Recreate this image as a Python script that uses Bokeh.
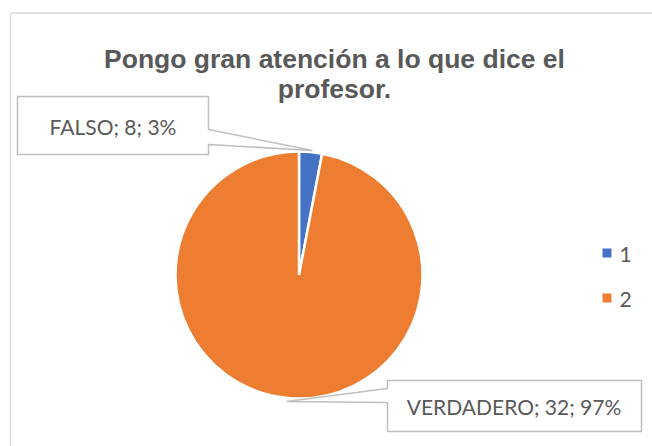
import math
from bokeh.plotting import figure
from bokeh.models import Range1d, ColumnDataSource
from bokeh.core.properties import value
from bokeh.embed import file_html
from bokeh.resources import INLINE

# ---- data ----
title_lines = ["Pongo gran atención a lo que dice el", "profesor."]
categories = ["FALSO", "VERDADERO"]
counts = [8, 32]
percents = [3, 97]
legend_labels = ["1", "2"]
colors = ["#4472C4", "#ED7D31"]

W, H = 652, 446
OFF = 0
def px(x):  # page x -> data x
    return x - OFF
def py(y):  # page y -> data y
    return (H + OFF) - y

p = figure(width=W, height=H, output_backend="svg", toolbar_location=None,
           x_range=Range1d(0, W), y_range=Range1d(0, H), min_border=0,
           outline_line_color=None, background_fill_color="white")
p.axis.visible = False
p.grid.visible = False

# chart border (top & left visible; the rest is cropped)
p.segment(x0=[px(10), px(10)], y0=[py(12.5), py(12.5)], x1=[px(700), px(10)], y1=[py(12.5), py(500)],
          line_color="#d9d9d9", line_width=1.3)

# title
for i, t in enumerate(title_lines):
    p.text(x=[px(334)], y=[py(58.5 + 30 * i)], text=[t], text_align="center", text_baseline="alphabetic",
           text_font=value("Liberation Sans"), text_font_style="bold", text_font_size="26.5px",
           text_color="#595959")

# pie
cx, cy, r = px(298.5), py(274.5), 123.5
cum = [0]
for v in percents:
    cum.append(cum[-1] + v)
total = cum[-1]
starts = [math.pi / 2 - 2 * math.pi * cum[i] / total for i in range(len(percents))]
ends = [math.pi / 2 - 2 * math.pi * cum[i + 1] / total for i in range(len(percents))]
src = ColumnDataSource(dict(start=starts, end=ends, color=colors))
p.wedge(x=cx, y=cy, radius=r, start_angle="start", end_angle="end", direction="clock",
        fill_color="color", line_color="white", line_width=2.5, source=src)

# data label callouts
callouts = [
    [(17, 96), (208, 96), (208, 129), (312, 150), (208, 144), (208, 154), (17, 154)],
    [(387, 380), (641, 380), (641, 431), (387, 431), (387, 402), (286, 401), (387, 388)],
]
label_pos = [(112.5, 126), (513.5, 406)]
for poly, (tx, ty), cat, c, pc in zip(callouts, label_pos, categories, counts, percents):
    p.patch(x=[px(a) for a, b in poly], y=[py(b) for a, b in poly], fill_color="white",
            line_color="#bfbfbf", line_width=1.5)
    p.text(x=[px(tx)], y=[py(ty)], text=[f"{cat}; {c}; {pc}%"], text_align="center",
           text_baseline="middle", text_font=value("Lato"), text_font_size="21px",
           text_color="#595959")

# legend
leg_y = [252.5, 297.5]
p.scatter(x=[px(606.5)] * 2, y=[py(v) for v in leg_y], marker="square", size=9,
          fill_color=colors, line_color=None)
p.text(x=[px(619)] * 2, y=[py(v + 1) for v in leg_y], text=legend_labels, text_align="left",
       text_baseline="middle", text_font=value("Lato"), text_font_size="21px", text_color="#595959")

open("out.html", "w").write(file_html(p, INLINE))
